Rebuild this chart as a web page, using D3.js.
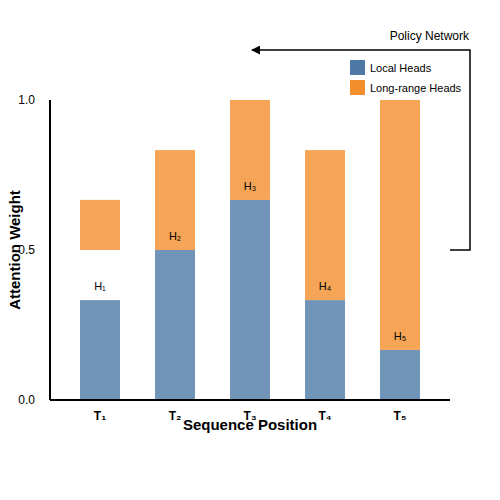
<!DOCTYPE html>
<html><head><meta charset="utf-8">
<script src="https://cdn.jsdelivr.net/npm/d3@7"></script>
<style>body{margin:0}text{font-family:"Liberation Sans",Arial,sans-serif}</style>
</head><body><svg id="c" width="500" height="500"></svg>
<script>
var positions = ["T₁", "T₂", "T₃", "T₄", "T₅"];
var headLabels = ["H₁", "H₂", "H₃", "H₄", "H₅"];
var localWeight = [0.333, 0.5, 0.667, 0.333, 0.167];
var longBottom = [0.5, 0.5, 0.667, 0.333, 0.167];
var longTop = [0.667, 0.833, 1.0, 0.833, 1.0];
var yTicks = [0, 0.5, 1];

var svg = d3.select("#c");
var x = d3.scaleBand().domain(positions).range([62.5, 437.5]).paddingInner(0.4667).paddingOuter(0.2333);
var y = d3.scaleLinear().domain([0, 1]).range([400, 100]);
var blue = "#4e79a7", orange = "#f28e2b";

var g = svg.append("g");
g.selectAll(".loc").data(positions).enter().append("rect")
    .attr("x", function (d) { return x(d); })
    .attr("width", x.bandwidth())
    .attr("y", function (d, i) { return y(localWeight[i]); })
    .attr("height", function (d, i) { return y(0) - y(localWeight[i]); })
    .attr("fill", blue).attr("opacity", 0.8);
g.selectAll(".lr").data(positions).enter().append("rect")
    .attr("x", function (d) { return x(d); })
    .attr("width", x.bandwidth())
    .attr("y", function (d, i) { return y(longTop[i]); })
    .attr("height", function (d, i) { return y(longBottom[i]) - y(longTop[i]); })
    .attr("fill", orange).attr("opacity", 0.8);
g.selectAll(".hl").data(positions).enter().append("text")
    .attr("x", function (d) { return x(d) + x.bandwidth() / 2; })
    .attr("y", function (d, i) { return y(localWeight[i]) - 10; })
    .attr("text-anchor", "middle").attr("font-size", 11)
    .text(function (d, i) { return headLabels[i]; });

// axes
svg.append("line").attr("x1", 50).attr("x2", 450).attr("y1", 400).attr("y2", 400).attr("stroke", "#000").attr("stroke-width", 2);
svg.append("line").attr("x1", 50).attr("x2", 50).attr("y1", 100).attr("y2", 400).attr("stroke", "#000").attr("stroke-width", 2);
svg.selectAll(".yt").data(yTicks).enter().append("text")
    .attr("x", 35).attr("y", function (d) { return y(d) + 4; })
    .attr("text-anchor", "end").attr("font-size", 12)
    .text(function (d) { return d.toFixed(1); });
svg.selectAll(".xt").data(positions).enter().append("text")
    .attr("x", function (d) { return x(d) + x.bandwidth() / 2; })
    .attr("y", 420).attr("text-anchor", "middle").attr("font-size", 12).attr("font-weight", "bold")
    .text(function (d) { return d; });
svg.append("text").attr("x", 250).attr("y", 430).attr("text-anchor", "middle")
    .attr("font-size", 15).attr("font-weight", "bold").text("Sequence Position");
svg.append("text").attr("transform", "translate(20,250) rotate(-90)").attr("text-anchor", "middle")
    .attr("font-size", 15).attr("font-weight", "bold").text("Attention Weight");

// policy network arrow
svg.append("defs").append("marker").attr("id", "ah").attr("viewBox", "0 0 10 10")
    .attr("refX", 9).attr("refY", 5).attr("markerWidth", 6).attr("markerHeight", 6).attr("orient", "auto")
    .append("path").attr("d", "M0,0L10,5L0,10z").attr("fill", "#000");
svg.append("path").attr("d", "M450,250H470V50H252").attr("fill", "none")
    .attr("stroke", "#000").attr("stroke-width", 1.5).attr("marker-end", "url(#ah)");
svg.append("text").attr("x", 469).attr("y", 40).attr("text-anchor", "end").attr("font-size", 12).text("Policy Network");

// legend
var leg = [["Local Heads", blue], ["Long-range Heads", orange]];
var lg = svg.selectAll(".lg").data(leg).enter().append("g")
    .attr("transform", function (d, i) { return "translate(350," + (60 + i * 20) + ")"; });
lg.append("rect").attr("width", 15).attr("height", 15).attr("fill", function (d) { return d[1]; });
lg.append("text").attr("x", 20).attr("y", 12).attr("font-size", 11).text(function (d) { return d[0]; });
</script></body></html>
